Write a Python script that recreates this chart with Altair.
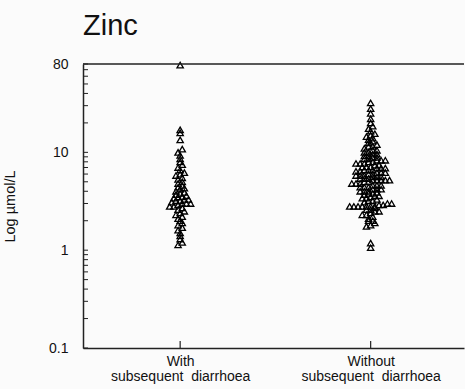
import altair as alt
import pandas as pd

# ---- data ----
chart_title = "Zinc"
group_labels = ["With|subsequent\u00a0 diarrhoea", "Without|subsequent\u00a0 diarrhoea"]

with_values = [78, 17, 15.8, 13.4, 10.8, 10, 9.3, 8.6, 8, 7.5, 7, 6.6, 6.2, 6, 5.8,
               5.5, 5.3, 5, 4.8, 4.6, 4.4, 4.3, 4.2, 4, 3.9, 3.8, 3.7, 3.6, 3.5, 3.5,
               3.4, 3.3, 3.3, 3.2, 3.2, 3.1, 3, 3, 3, 2.9, 2.8, 2.8, 2.7, 2.6, 2.5,
               2.4, 2.3, 2.2, 2.1, 2, 1.9, 1.8, 1.7, 1.6, 1.5, 1.4, 1.3, 1.2, 1.13]

without_values = [32, 28, 25, 22, 20, 18.5, 17.5, 16.5, 15.5, 15, 14.5, 14, 13.5, 13,
                  12.5, 12, 11.5, 11.5, 11, 10.5, 10.5, 10, 10, 9.6, 9.6, 9.2, 9.2,
                  8.9, 8.9, 8.6, 8.6, 8.3, 8.3, 8.3, 8, 8, 7.7, 7.7, 7.7, 7.4, 7.4,
                  7.1, 7.1, 7.1, 6.9, 6.9, 6.9, 6.6, 6.6, 6.6, 6.4, 6.4, 6.2, 6.2,
                  6.2, 6.0, 6.0, 5.8, 5.8, 5.8, 5.6, 5.6, 5.6, 5.4, 5.4, 5.4, 5.2,
                  5.2, 5.2, 5.2, 5.2, 5.0, 5.0, 4.8, 4.8, 4.8, 4.6, 4.6, 4.6, 4.4,
                  4.4, 4.4, 4.2, 4.2, 4.2, 4.0, 4.0, 4.0, 3.9, 3.8, 3.8, 3.7, 3.6,
                  3.6, 3.5, 3.4, 3.4, 3.3, 3.2, 3.2, 3.1, 3.0, 3.0, 2.9, 2.9, 2.8,
                  2.8, 2.8, 2.8, 2.8, 2.8, 2.8, 2.7, 2.6, 2.6, 2.5, 2.5, 2.4, 2.3,
                  2.3, 2.2, 2.1, 2.0, 2.0, 1.9, 1.8, 1.75, 1.18, 1.06]

y_tick_values = [0.1, 1, 10, 80]
minor_ticks = [0.1, 0.2, 0.3, 0.4, 0.5, 0.6, 0.7, 0.8, 0.9,
               1, 2, 3, 4, 5, 6, 7, 8, 9,
               10, 20, 30, 40, 50, 60, 70, 80]

df = pd.DataFrame({
    "g": [0] * len(with_values) + [1] * len(without_values),
    "value": with_values + without_values,
})

W, H = 381, 284
FONT = "Liberation Sans"
xscale = alt.Scale(domain=[-0.51, 1.49])
yscale = alt.Scale(type="log", domain=[0.1, 80], nice=False)

label_expr = ("split(datum.value == 0 ? '%s' : '%s', '|')"
              % (group_labels[0], group_labels[1]))

points = alt.Chart(df).transform_calculate(
    lv="log(datum.value) / LN10"
).transform_calculate(
    b="floor(datum.lv / 0.04)"
).transform_joinaggregate(
    n="count()", groupby=["g", "b"]
).transform_window(
    r="row_number()", groupby=["g", "b"], sort=[alt.SortField("value")]
).transform_calculate(
    xp="datum.g + (datum.r - (datum.n + 1) / 2) * 0.022"
).mark_point(
    shape="triangle-up", filled=False, color="black", size=40, strokeWidth=1.3, opacity=1
).encode(
    x=alt.X("xp:Q", scale=xscale,
            axis=alt.Axis(values=[0, 1], labelExpr=label_expr, title=None,
                          grid=False, ticks=False, domainColor="#222",
                          domainWidth=1.5, labelFont=FONT, labelFontSize=14,
                          labelColor="#111", labelPadding=6, labelLineHeight=15,
                          labelOverlap=False, labelBaseline="top")),
    y=alt.Y("value:Q", scale=yscale,
            axis=alt.Axis(values=y_tick_values, format="~g", grid=False,
                          ticks=False, domainColor="#222", domainWidth=1.5,
                          labelFont=FONT, labelFontSize=14, labelColor="#111",
                          labelPadding=15, title="Log µmol/L", titleFont=FONT,
                          titleFontSize=14.5, titleFontWeight="normal",
                          titleColor="#111", titleX=-73, titleY=H / 2,
                          titleAlign="center", titleBaseline="middle")),
)

yticks = alt.Chart(pd.DataFrame({"t": minor_ticks})).mark_rule(
    color="#222", strokeWidth=1
).encode(
    y=alt.Y("t:Q", scale=yscale),
    x=alt.value(0),
    x2=alt.value(5),
)

xticks = alt.Chart(pd.DataFrame({"xp": [0, 1]})).mark_rule(
    color="#222", strokeWidth=1.2
).encode(
    x=alt.X("xp:Q", scale=xscale),
    y=alt.value(H),
    y2=alt.value(H - 7),
)

topline = alt.Chart(alt.InlineData(values=[{"a": 1}])).mark_rule(
    color="#222", strokeWidth=1.5
).encode(
    x=alt.value(0),
    x2=alt.value(W),
    y=alt.value(0),
)

title_text = alt.Chart(alt.InlineData(values=[{"t": chart_title}])).mark_text(
    font=FONT, fontSize=29, color="#111", align="left", baseline="alphabetic"
).encode(
    text="t:N",
    x=alt.value(0),
    y=alt.value(-29),
)

chart = alt.layer(points, yticks, xticks, topline, title_text).properties(
    width=W,
    height=H,
    autosize=alt.AutoSizeParams(type="none"),
    padding={"left": 83, "top": 64, "right": 1, "bottom": 41},
    background="#fbfbfb",
).configure_view(stroke=None)

chart.save("out.html", embed_options={"renderer": "svg", "actions": False})
